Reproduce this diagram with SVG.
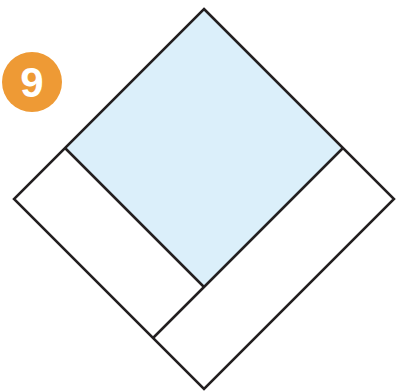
<svg xmlns="http://www.w3.org/2000/svg" width="404" height="392" viewBox="0 0 404 392">
<style>
.ln{fill:none;stroke:#231f20;stroke-width:2.5;stroke-linejoin:miter}
</style>
<rect width="404" height="392" fill="#ffffff"/>
<g id="blue-square">
<polygon points="204,9 343,148 204,287 65,148" fill="#dbeffa"/>
</g>
<g id="outline">
<polygon class="ln" points="204,9 394,199 204,389 14,199"/>
<polyline class="ln" points="65,148 204,287"/>
<polyline class="ln" points="343,148 153,338"/>
</g>
<g id="badge">
<circle cx="32" cy="82" r="30" fill="#ee9a35"/>
<text x="32" y="97" text-anchor="middle" font-family="Liberation Sans, Arial, sans-serif" font-weight="bold" font-size="42" fill="#ffffff">9</text>
</g>
</svg>
